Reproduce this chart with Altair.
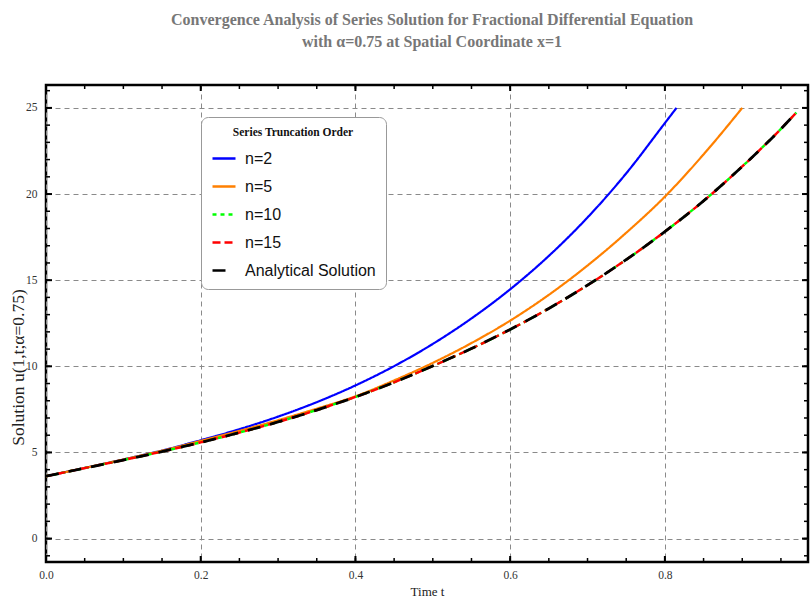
import altair as alt
import pandas as pd

# ---- data ----
t_n2 = [0, 0.05, 0.1, 0.15, 0.2, 0.25, 0.3, 0.35, 0.4, 0.45, 0.5, 0.55, 0.6, 0.65, 0.7, 0.75, 0.8, 0.815]
u_n2 = [3.62, 4.10, 4.59, 5.11, 5.71, 6.35, 7.08, 7.92, 8.89, 10.01, 11.30, 12.78, 14.47, 16.41, 18.64, 21.2, 24.12, 25.0]

t_n5 = [0, 0.05, 0.1, 0.15, 0.2, 0.25, 0.3, 0.35, 0.4, 0.45, 0.5, 0.55, 0.6, 0.65, 0.7, 0.75, 0.8, 0.85, 0.9]
u_n5 = [3.62, 4.10, 4.59, 5.10, 5.67, 6.25, 6.87, 7.54, 8.26, 9.18, 10.20, 11.35, 12.65, 14.15, 15.85, 17.75, 19.85, 22.3, 25.0]

t_n10 = [0, 0.05, 0.1, 0.15, 0.2, 0.25, 0.3, 0.35, 0.4, 0.45, 0.5, 0.55, 0.6, 0.65, 0.7, 0.75, 0.8, 0.85, 0.9, 0.95, 0.97]
u_n10 = [3.62, 4.09, 4.56, 5.05, 5.58, 6.15, 6.77, 7.46, 8.22, 9.07, 10.02, 11.03, 12.14, 13.36, 14.71, 16.19, 17.82, 19.60, 21.60, 23.78, 24.73]

t_n15 = [0, 0.05, 0.1, 0.15, 0.2, 0.25, 0.3, 0.35, 0.4, 0.45, 0.5, 0.55, 0.6, 0.65, 0.7, 0.75, 0.8, 0.85, 0.9, 0.95, 0.97]
u_n15 = [3.62, 4.09, 4.56, 5.05, 5.58, 6.15, 6.77, 7.46, 8.22, 9.07, 10.02, 11.03, 12.14, 13.36, 14.71, 16.19, 17.82, 19.60, 21.60, 23.78, 24.73]

t_exact = [0, 0.05, 0.1, 0.15, 0.2, 0.25, 0.3, 0.35, 0.4, 0.45, 0.5, 0.55, 0.6, 0.65, 0.7, 0.75, 0.8, 0.85, 0.9, 0.95, 0.97]
u_exact = [3.62, 4.09, 4.56, 5.05, 5.58, 6.15, 6.77, 7.46, 8.22, 9.07, 10.02, 11.03, 12.14, 13.36, 14.71, 16.19, 17.82, 19.60, 21.60, 23.78, 24.73]

series_names = ["n=2", "n=5", "n=10", "n=15", "Analytical Solution"]
series_colors = ["#0000FF", "#FF8000", "#00FF00", "#FF0000", "#000000"]
series_dashes = [[1, 0], [1, 0], [4, 4], [8, 4], [13, 10]]

x_label_values = [0.0, 0.2, 0.4, 0.6, 0.8]
y_label_values = [0, 5, 10, 15, 20, 25]
x_minor_ticks = [0.0, 0.05, 0.1, 0.15, 0.2, 0.25, 0.3, 0.35, 0.4, 0.45, 0.5,
                 0.55, 0.6, 0.65, 0.7, 0.75, 0.8, 0.85, 0.9, 0.95]
y_minor_ticks = [-1, 0, 1, 2, 3, 4, 5, 6, 7, 8, 9, 10, 11, 12, 13, 14, 15,
                 16, 17, 18, 19, 20, 21, 22, 23, 24, 25, 26]

W, H = 762, 477
x_domain = [0, 0.985]
y_domain = [-1.36, 26.33]

series_data = {
    "n=2": (t_n2, u_n2),
    "n=5": (t_n5, u_n5),
    "n=10": (t_n10, u_n10),
    "n=15": (t_n15, u_n15),
    "Analytical Solution": (t_exact, u_exact),
}
widths = {"n=2": 2.2, "n=5": 2.2, "n=10": 2.4, "n=15": 2.4, "Analytical Solution": 2.8}

xscale = alt.Scale(domain=x_domain, nice=False, zero=False)
yscale = alt.Scale(domain=y_domain, nice=False, zero=False)

x_axis = alt.Axis(values=x_label_values, format=".1f", grid=True, ticks=False, domain=False,
                  gridDash=[5, 4], gridColor="#8a8a8a", gridWidth=1, labelFlush=False,
                  labelFont="Liberation Serif", labelFontSize=11.5, labelColor="#333",
                  labelPadding=7, title="Time t", titleFont="Liberation Serif",
                  titleFontSize=13, titleFontWeight="normal", titleColor="#222",
                  titleBaseline="alphabetic", titleY=33)
y_axis = alt.Axis(values=y_label_values, grid=True, ticks=False, domain=False,
                  gridDash=[5, 4], gridColor="#8a8a8a", gridWidth=1,
                  labelFont="Liberation Serif", labelFontSize=11.5, labelColor="#333",
                  labelPadding=9, title="Solution u(1,t;α=0.75)",
                  titleFont="Liberation Serif", titleFontSize=17.5,
                  titleFontWeight="normal", titleColor="#222",
                  titleAngle=270, titleBaseline="alphabetic", titleAlign="center",
                  titleX=-23, titleY=282)

color_scale = alt.Scale(domain=series_names, range=series_colors)
dash_scale = alt.Scale(domain=series_names, range=series_dashes)
legend = alt.Legend(title="Series Truncation Order")

layers = []
for name in series_names:
    ts, us = series_data[name]
    df = pd.DataFrame({"t": ts, "u": us, "series": name})
    layers.append(
        alt.Chart(df).mark_line(strokeWidth=widths[name], interpolate="monotone", clip=True).encode(
            x=alt.X("t:Q", scale=xscale, axis=x_axis),
            y=alt.Y("u:Q", scale=yscale, axis=y_axis),
            color=alt.Color("series:N", scale=color_scale, legend=legend, sort=series_names),
            strokeDash=alt.StrokeDash("series:N", scale=dash_scale, legend=legend, sort=series_names),
        )
    )

xt = pd.DataFrame({"t": x_minor_ticks})
xt_major = pd.DataFrame({"t": x_label_values})
yt = pd.DataFrame({"u": y_minor_ticks})
yt_major = pd.DataFrame({"u": y_label_values})

def xticks(df, y1, y2, w):
    return alt.Chart(df).mark_rule(color="black", strokeWidth=w).encode(
        x=alt.X("t:Q", scale=xscale, axis=x_axis), y=alt.value(y1), y2=alt.value(y2))

def yticks(df, x1, x2, w):
    return alt.Chart(df).mark_rule(color="black", strokeWidth=w).encode(
        y=alt.Y("u:Q", scale=yscale, axis=y_axis), x=alt.value(x1), x2=alt.value(x2))

tick_layers = [
    xticks(xt, H, H - 4, 1.5), xticks(xt, 0, 4, 1.5),
    xticks(xt_major, H, H - 6, 2), xticks(xt_major, 0, 6, 2),
    yticks(yt, 0, 4, 1.5), yticks(yt, W, W - 4, 1.5),
    yticks(yt_major, 0, 6, 2), yticks(yt_major, W, W - 6, 2),
]

chart = alt.layer(*layers, *tick_layers).properties(
    width=W, height=H,
    title=alt.TitleParams(
        text=["Convergence Analysis of Series Solution for Fractional Differential Equation",
              "with α=0.75 at Spatial Coordinate x=1"],
        font="Liberation Serif", fontSize=16, fontWeight="bold", color="#777777",
        anchor="middle", offset=34, lineHeight=22.5, dx=5),
    autosize=alt.AutoSizeParams(type="none"),
    padding={"left": 46, "top": 85, "right": 2, "bottom": 36},
).configure_view(
    stroke="black", strokeWidth=2.5
).configure_legend(
    orient="none", legendX=155, legendY=32, padding=10, cornerRadius=7,
    strokeColor="#999999", fillColor="white", strokeWidth=1,
    titleFont="Liberation Serif", titleFontSize=11.5, titleFontWeight="bold",
    titleColor="#111", titleAnchor="middle", titlePadding=7,
    labelFont="Liberation Sans", labelFontSize=16, labelColor="#111", labelOffset=8,
    symbolType="stroke", symbolSize=529, symbolStrokeWidth=2.5, rowPadding=7,
)

chart.save("out.html", embed_options={"renderer": "svg", "actions": False})
